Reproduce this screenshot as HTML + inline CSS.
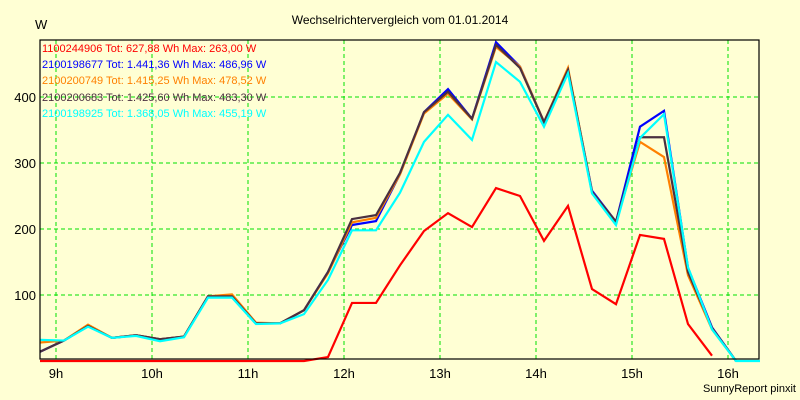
<!DOCTYPE html>
<html><head><meta charset="utf-8"><style>
body{margin:0;background:#ffffd4;}
svg{display:block;font-family:"Liberation Sans",sans-serif;}
</style></head><body>
<svg id="chart" width="800" height="400">
<rect width="800" height="400" fill="#ffffd4"/>
<text x="400" y="24" text-anchor="middle" font-size="12">Wechselrichtervergleich vom 01.01.2014</text>
<text x="35" y="29" font-size="13">W</text>
<g id="grid"></g>
<g id="series"></g>
<rect x="40" y="40" width="719" height="319" fill="none" stroke="#000" stroke-width="1.2"/>
<g id="axes"></g>
<g font-size="11">
<text x="42" y="52" fill="#ff0000">1100244906 Tot: 627,88 Wh Max: 263,00 W</text>
<text x="42" y="68" fill="#0000ff">2100198677 Tot: 1.441,36 Wh Max: 486,96 W</text>
<text x="42" y="84" fill="#ff8000">2100200749 Tot: 1.415,25 Wh Max: 478,52 W</text>
<text x="42" y="101" fill="#4b3040">2100200683 Tot: 1.425,60 Wh Max: 483,30 W</text>
<text x="42" y="117" fill="#00ffff">2100198925 Tot: 1.368,05 Wh Max: 455,19 W</text>
</g>
<text x="796" y="392" text-anchor="end" font-size="11">SunnyReport pinxit</text>
</svg>
<script>
const xTicks = [9,10,11,12,13,14,15,16];
const xTickLabels = ["9h","10h","11h","12h","13h","14h","15h","16h"];
const yTicks = [100,200,300,400];
const startHour = 8 + 50/60;
const stepHours = 0.25;
const redVals = [0,0,0,0,0,0,0,0,0,0,0,0,6,88,88,145,197,224,203,262,250,182,235,109,86,191,185,56,8];
const blueVals = [14,31,53,35,39,33,37,98,98,57,57,77,135,206,212,283,377,412,367,483,446,362,441,258,211,355,379,141,51,0];
const orangeVals = [28,31,55,35,39,33,37,98,101,58,57,77,133,210,217,283,375,405,366,476,446,362,444,256,210,332,309,130,48,0];
const blackVals = [14,31,53,35,39,33,37,98,98,57,57,77,135,215,221,285,377,408,367,479,444,362,441,256,211,339,339,135,50,0];
const cyanVals = [32,31,52,35,38,30,36,96,96,56,57,71,123,198,198,255,332,373,335,453,423,355,436,254,206,338,374,142,48,0,0];
const NS="http://www.w3.org/2000/svg";
function xs(h){return 56+(h-9)*96;}
function ys(v){return 361-v*0.66;}
const grid=document.getElementById('grid'), axes=document.getElementById('axes'), ser=document.getElementById('series');
xTicks.forEach((t,i)=>{
  const l=document.createElementNS(NS,'line');
  l.setAttribute('x1',xs(t));l.setAttribute('x2',xs(t));l.setAttribute('y1',40);l.setAttribute('y2',359);
  l.setAttribute('stroke','#00e000');l.setAttribute('stroke-dasharray','4,3');
  
  
  grid.appendChild(l);
  const tx=document.createElementNS(NS,'text');
  tx.setAttribute('x',xs(t));tx.setAttribute('y',378);tx.setAttribute('text-anchor','middle');tx.setAttribute('font-size','13');
  tx.textContent=xTickLabels[i];
  
  
  axes.appendChild(tx);
});
yTicks.forEach(t=>{
  const l=document.createElementNS(NS,'line');
  l.setAttribute('x1',40);l.setAttribute('x2',759);l.setAttribute('y1',ys(t));l.setAttribute('y2',ys(t));
  l.setAttribute('stroke','#00e000');l.setAttribute('stroke-dasharray','4,3');
  
  
  grid.appendChild(l);
  const tx=document.createElementNS(NS,'text');
  tx.setAttribute('x',36);tx.setAttribute('y',ys(t)+5);tx.setAttribute('text-anchor','end');tx.setAttribute('font-size','13');
  tx.textContent=t;
  
  
  axes.appendChild(tx);
});
function drawLine(vals,color,name){
  const p=document.createElementNS(NS,'polyline');
  p.setAttribute('points',vals.map((v,i)=>xs(startHour+i*stepHours)+','+ys(v)).join(' '));
  p.setAttribute('fill','none');p.setAttribute('stroke',color);p.setAttribute('stroke-width','2.2');
  p.setAttribute('stroke-linejoin','miter');
  
  
  ser.appendChild(p);
}
drawLine(blueVals,'#0000ff','series-2100198677');
drawLine(orangeVals,'#ff8000','series-2100200749');
drawLine(blackVals,'#4b3040','series-2100200683');
drawLine(cyanVals,'#00ffff','series-2100198925');
drawLine(redVals,'#ff0000','series-1100244906');
</script>
</body></html>
